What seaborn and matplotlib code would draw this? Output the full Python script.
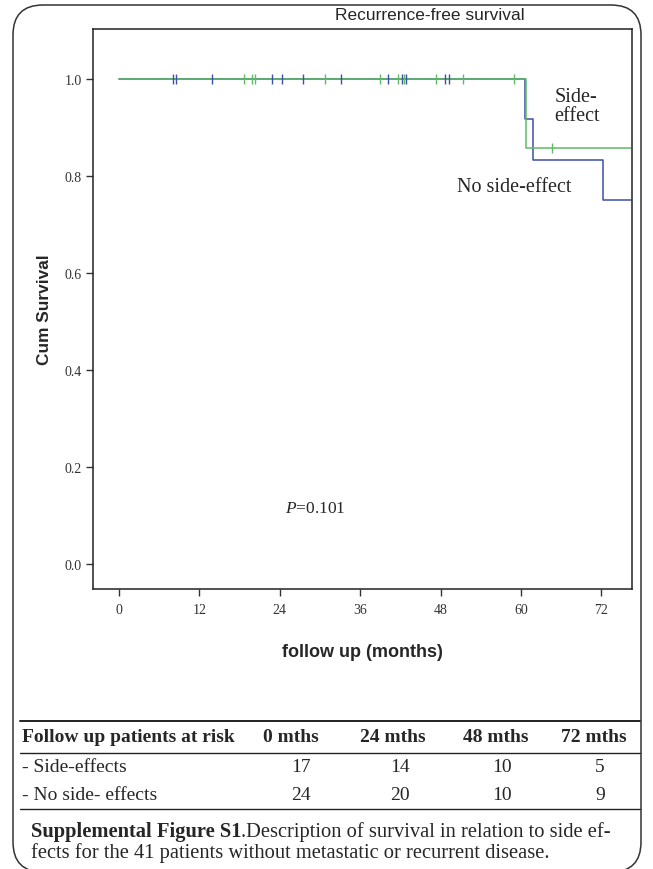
# Recurrence-free survival: side-effect vs no side-effect

import numpy as np
import pandas as pd
import matplotlib
matplotlib.use('Agg')
import matplotlib.pyplot as plt
from matplotlib.patches import FancyBboxPatch
from matplotlib.lines import Line2D
import seaborn as sns

# Bloco 1: dados (meses, sobrevida)
tempo_com_efeito = [0, 60.8, 76.5]
sobrev_com_efeito = [1.0, 0.857, 0.857]
censura_com_efeito = [18.6, 19.8, 20.3, 30.7, 39.0, 41.6, 42.6, 47.3, 51.4, 59.0, 64.6]

tempo_sem_efeito = [0, 60.6, 61.8, 72.2, 76.5]
sobrev_sem_efeito = [1.0, 0.917, 0.833, 0.75, 0.75]
censura_sem_efeito = [8.1, 8.5, 13.8, 22.8, 24.3, 27.4, 33.1, 40.2, 42.2, 42.9, 48.7, 49.3]

# tabela de pacientes em risco
cabecalho = ['Follow up patients at risk', '0 mths', '24 mths', '48 mths', '72 mths']
linhas_risco = ['- Side-effects', '- No side- effects']
risco_com_efeito = [17, 14, 10, 5]
risco_sem_efeito = [24, 20, 10, 9]

verde = '#5cbb63'
azul = '#3d50a3'


def nivel(tempos, sobrev, t):
    # valor da curva em degrau no tempo t
    i = np.searchsorted(tempos, t, side='right') - 1
    return sobrev[i]


df_com = pd.DataFrame({'meses': tempo_com_efeito, 'sobrev': sobrev_com_efeito})
df_sem = pd.DataFrame({'meses': tempo_sem_efeito, 'sobrev': sobrev_sem_efeito})
cens_com = pd.DataFrame({'meses': censura_com_efeito,
                         'sobrev': [nivel(tempo_com_efeito, sobrev_com_efeito, t) for t in censura_com_efeito]})
cens_sem = pd.DataFrame({'meses': censura_sem_efeito,
                         'sobrev': [nivel(tempo_sem_efeito, sobrev_sem_efeito, t) for t in censura_sem_efeito]})

# Bloco 2: estilo
sns.set_style('white')
plt.rcParams['font.family'] = ['Liberation Serif', 'DejaVu Serif']
plt.rcParams['mathtext.fontset'] = 'custom'
plt.rcParams['mathtext.rm'] = 'Liberation Serif'
plt.rcParams['mathtext.it'] = 'Liberation Serif:italic'

fig = plt.figure(figsize=(6.53, 8.7), dpi=100)
ax = fig.add_axes([0.1424, 0.3218, 0.8256, 0.6437])

# Bloco 3: curvas de Kaplan-Meier
sns.lineplot(data=df_sem, x='meses', y='sobrev', drawstyle='steps-post', estimator=None,
             sort=False, color=azul, linewidth=1.1, ax=ax)
sns.lineplot(data=df_com, x='meses', y='sobrev', drawstyle='steps-post', estimator=None,
             sort=False, color=verde, linewidth=1.1, ax=ax)
sns.scatterplot(data=cens_sem, x='meses', y='sobrev', marker='|', s=45, color=azul,
                linewidth=1.0, ax=ax, zorder=4)
sns.scatterplot(data=cens_com, x='meses', y='sobrev', marker='|', s=45, color=verde,
                linewidth=1.0, ax=ax, zorder=4)

ax.set_xlim(-3.9, 76.6)
ax.set_ylim(-0.0515, 1.103)
ax.set_xticks(range(0, 73, 12))
ax.set_yticks(np.arange(0, 1.01, 0.2))
ax.set_yticklabels([f'{v:.1f}' for v in np.arange(0, 1.01, 0.2)])
ax.tick_params(direction='out', length=5, width=1, labelsize=10, pad=3,
               colors='#333333', bottom=True, left=True)
ax.tick_params(axis='x', pad=5)
for lado in ax.spines.values():
    lado.set_color('#222222')
    lado.set_linewidth(1.1)

ax.set_xlabel('follow up (months)', fontsize=13, fontweight='bold', family='Liberation Sans')
ax.set_ylabel('Cum Survival', fontsize=12.4, fontweight='bold', family='Liberation Sans')
ax.xaxis.set_label_coords(0.5, -0.096)
ax.yaxis.set_label_coords(-0.076, 0.5)

# rotulos dentro do grafico
ax.text(65, 0.944, 'Side-\neffect', fontsize=14.5, va='center', ha='left', linespacing=1.0)
ax.text(50.4, 0.779, 'No side-effect', fontsize=14.5, va='center', ha='left')
ax.text(24.7, 0.116, '$P$=0.101', fontsize=12.5, va='center', ha='left')

fig.text(430 / 653, 1 - 15 / 870, 'Recurrence-free survival', ha='center', va='center',
         fontsize=12.5, family='Liberation Sans')

# Bloco 4: tabela de pacientes em risco
def fy(py):
    return 1 - py / 870


for py, lw in [(722, 1.4), (754, 1.0), (810, 1.0)]:
    fig.add_artist(Line2D([20 / 653, 640 / 653], [fy(py), fy(py)], color='#222222', linewidth=lw))

col_cab = [291, 393, 496, 594]
col_num = [301, 400, 502, 600]
fig.text(22 / 653, fy(738), cabecalho[0], fontsize=14, fontweight='bold', va='center', ha='left')
for x, h in zip(col_cab, cabecalho[1:]):
    fig.text(x / 653, fy(738), h, fontsize=14, fontweight='bold', va='center', ha='center')

for py, nome, valores in [(768, linhas_risco[0], risco_com_efeito), (795, linhas_risco[1], risco_sem_efeito)]:
    fig.text(22 / 653, fy(py), nome, fontsize=14, va='center', ha='left')
    for x, v in zip(col_num, valores):
        fig.text(x / 653, fy(py), str(v), fontsize=14, va='center', ha='center')

# legenda da figura
t1 = fig.text(31 / 653, fy(837), 'Supplemental Figure S1', fontsize=14.8, fontweight='bold',
              va='baseline', ha='left')
ax.annotate('.Description of survival in relation to side ef-', xy=(1, 0), xycoords=t1,
            fontsize=14.8, va='bottom', ha='left', annotation_clip=False)
fig.text(31 / 653, fy(858), 'fects for the 41 patients without metastatic or recurrent disease.',
         fontsize=14.8, va='baseline', ha='left')

# moldura arredondada
fig.add_artist(FancyBboxPatch((0.13, -0.03), 6.28, 8.67, boxstyle='round,pad=0,rounding_size=0.3',
                              transform=fig.dpi_scale_trans, fill=False, edgecolor='#333333',
                              linewidth=1.1))

fig.savefig('out.png', dpi=100)
